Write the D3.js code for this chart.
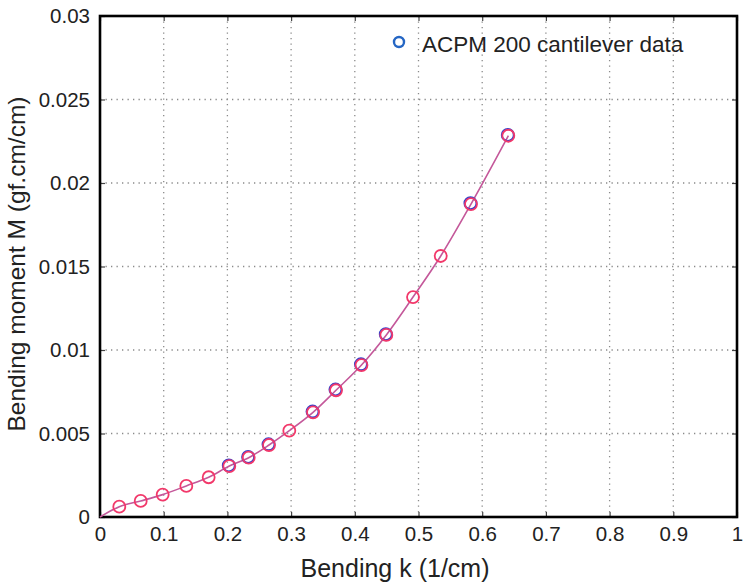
<!DOCTYPE html>
<html>
<head>
<meta charset="utf-8">
<script src="https://cdn.jsdelivr.net/npm/d3@7"></script>
<style>
  body { margin: 0; background: #fff; }
  svg text { font-family: "Liberation Sans", Arial, sans-serif; fill: #222; }
</style>
</head>
<body>
<svg id="chart" width="744" height="586"></svg>
<script>
// model curve points (red circles + line)
const modelK = [0.0303, 0.0639, 0.0984, 0.1355, 0.1706, 0.2030, 0.2334, 0.2653, 0.2972,
  0.3344, 0.3705, 0.4105, 0.4495, 0.4914, 0.5349, 0.5824, 0.6410]
const modelM = [0.00062, 0.00096, 0.00134, 0.00186, 0.00238, 0.00305, 0.00355, 0.00431, 0.00517,
  0.00627, 0.00759, 0.00910, 0.01090, 0.01317, 0.01563, 0.01874, 0.02283]

// measured cantilever data (blue circles)
const dataK = [0.2022, 0.2326, 0.2646, 0.3337, 0.3697, 0.4097, 0.4487, 0.5816, 0.6402]
const dataM = [0.00309, 0.00359, 0.00435, 0.00631, 0.00763, 0.00914, 0.01094, 0.01879, 0.02288]

const xTicks = [0, 0.1, 0.2, 0.3, 0.4, 0.5, 0.6, 0.7, 0.8, 0.9, 1]
const yTicks = [0, 0.005, 0.01, 0.015, 0.02, 0.025, 0.03]

const legendLabel = 'ACPM 200 cantilever data'
const xTitle = 'Bending k (1/cm)'
const yTitle = 'Bending moment M (gf.cm/cm)'

const plotLeft = 100, plotTop = 16, plotRight = 737, plotBottom = 517

const svg = d3.select('#chart')

const x = d3.scaleLinear().domain([0, 1]).range([plotLeft, plotRight])
const y = d3.scaleLinear().domain([0, 0.03]).range([plotBottom, plotTop])

// dotted grid
const grid = svg.append('g')
  .attr('stroke', '#8a8a8a')
  .attr('stroke-width', 1.3)
  .attr('stroke-dasharray', '1.3,4.2')
grid.selectAll('.vx')
  .data(xTicks.slice(1, -1))
  .enter()
  .append('line')
  .attr('x1', d => x(d)).attr('x2', d => x(d))
  .attr('y1', plotTop).attr('y2', plotBottom)
grid.selectAll('.hy')
  .data(yTicks.slice(1, -1))
  .enter()
  .append('line')
  .attr('x1', plotLeft).attr('x2', plotRight)
  .attr('y1', d => y(d)).attr('y2', d => y(d))

// axes with inward ticks
const fmt = d => d === 0 ? '0' : String(+d.toFixed(3))

svg.append('g')
  .attr('transform', `translate(0,${plotBottom})`)
  .call(d3.axisBottom(x).tickValues(xTicks).tickFormat(fmt).tickSizeInner(-5).tickSizeOuter(0).tickPadding(9))
svg.append('g')
  .attr('transform', `translate(${plotLeft},0)`)
  .call(d3.axisLeft(y).tickValues(yTicks).tickFormat(fmt).tickSizeInner(-5).tickSizeOuter(0).tickPadding(10))
svg.append('g')
  .attr('transform', `translate(0,${plotTop})`)
  .call(d3.axisTop(x).tickValues(xTicks).tickFormat('').tickSizeInner(-5).tickSizeOuter(0))
svg.append('g')
  .attr('transform', `translate(${plotRight},0)`)
  .call(d3.axisRight(y).tickValues(yTicks).tickFormat('').tickSizeInner(-5).tickSizeOuter(0))

svg.selectAll('.domain').remove()
svg.selectAll('.tick line').attr('stroke', '#444').attr('stroke-width', 1.2)
svg.selectAll('.tick text')
  .style('font-size', '20.5px')
  .style('font-family', '"Liberation Sans", Arial, sans-serif')
  .attr('fill', '#2a2a2a')

// frame
svg.append('rect')
  .attr('x', plotLeft).attr('y', plotTop)
  .attr('width', plotRight - plotLeft).attr('height', plotBottom - plotTop)
  .attr('fill', 'none')
  .attr('stroke', '#000')
  .attr('stroke-width', 2.6)

// model line from origin through the model points
const linePts = [[0, 0]].concat(modelK.map((k, i) => [k, modelM[i]]))
svg.append('path')
  .datum(linePts)
  .attr('d', d3.line().x(d => x(d[0])).y(d => y(d[1])).curve(d3.curveMonotoneX))
  .attr('fill', 'none')
  .attr('stroke', '#c4589a')
  .attr('stroke-width', 1.6)

// blue data circles
svg.append('g').selectAll('circle')
  .data(dataK.map((k, i) => [k, dataM[i]]))
  .enter()
  .append('circle')
  .attr('cx', d => x(d[0]))
  .attr('cy', d => y(d[1]))
  .attr('r', 6)
  .attr('fill', 'none')
  .attr('stroke', '#3340cc')
  .attr('stroke-width', 2)

// red model circles
svg.append('g').selectAll('circle')
  .data(modelK.map((k, i) => [k, modelM[i]]))
  .enter()
  .append('circle')
  .attr('cx', d => x(d[0]))
  .attr('cy', d => y(d[1]))
  .attr('r', 6)
  .attr('fill', 'none')
  .attr('stroke', '#f2386a')
  .attr('stroke-width', 1.8)

// legend
svg.append('circle')
  .attr('cx', 399).attr('cy', 42).attr('r', 5)
  .attr('fill', 'none')
  .attr('stroke', '#2566c4')
  .attr('stroke-width', 2.4)
svg.append('text')
  .attr('x', 422).attr('y', 52)
  .style('font-size', '22.5px')
  .text(legendLabel)

// axis titles
svg.append('text')
  .attr('x', 395).attr('y', 577)
  .attr('text-anchor', 'middle')
  .style('font-size', '25px')
  .text(xTitle)
svg.append('text')
  .attr('transform', 'translate(25,264) rotate(-90)')
  .attr('text-anchor', 'middle')
  .style('font-size', '24.5px')
  .text(yTitle)
</script>
</body>
</html>
